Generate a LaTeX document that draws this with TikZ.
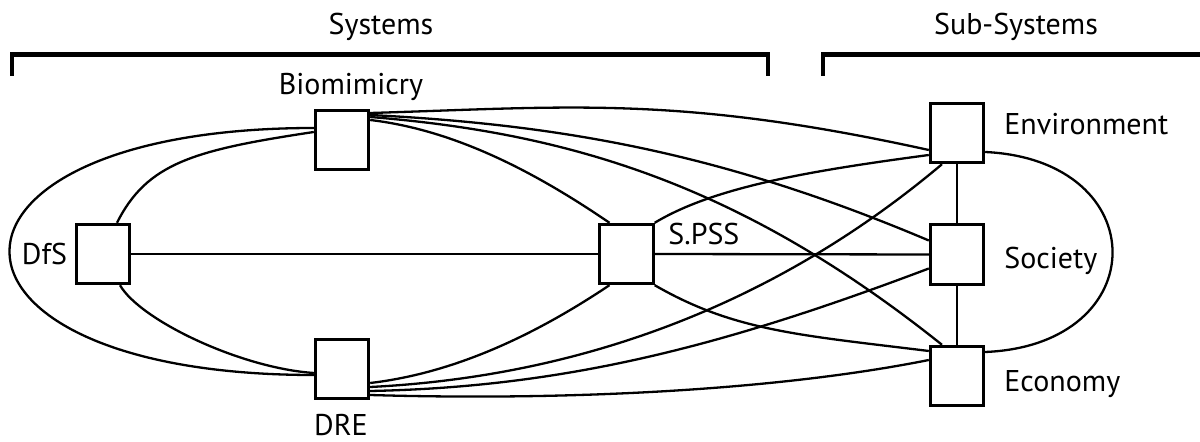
\documentclass[tikz,border=0pt]{standalone}
\usepackage{fontspec}
\setmainfont{PT Sans}
\usetikzlibrary{calc}
\begin{document}
\begin{tikzpicture}[x=0.5pt,y=-0.5pt,
  box/.style={draw,line width=1.4pt,minimum width=26.8pt,minimum height=29.8pt,inner sep=0pt},
  link/.style={line width=1.15pt},
  lbl/.style={inner sep=0pt,font=\fontsize{15}{18}\selectfont},
  bracket/.style={line width=2.3pt,line cap=butt,line join=miter}]
\useasboundingbox (0,0) rectangle (1200,442);

% systems and sub-systems
\node[box] (bio)  at (342,140)   {};
\node[box] (dfs)  at (103,254)   {};
\node[box] (spss) at (626.5,254) {};
\node[box] (dre)  at (342,369)   {};
\node[box] (env)  at (957,133)   {};
\node[box] (soc)  at (957,254.5) {};
\node[box] (eco)  at (957,376)   {};

% labels
\node[lbl,anchor=base] (tsys) at (381,35) {Systems};
\node[lbl,anchor=base] (tsub) at (1016,35) {Sub-Systems};
\node[lbl,anchor=base] (tbio) at (351,95) {Biomimicry};
\node[lbl,anchor=base] (tdfs) at (44.5,265) {DfS};
\node[lbl,anchor=base west] (tspss) at (668,245) {S.PSS};
\node[lbl,anchor=base west] (tenv) at (1004,135) {Environment};
\node[lbl,anchor=base west] (tsoc) at (1004,269) {Society};
\node[lbl,anchor=base west] (teco) at (1004,392) {Economy};
\node[lbl,anchor=base] (tdre) at (341,436) {DRE};

% group brackets
\draw[bracket] (12,76) -- (12,54.5) -- (768,54.5) -- (768,76);
\draw[bracket] (823,76) -- (823,54.5) -- (1204,54.5);

% links among the systems
\draw[link] ($(bio.west)+(0,-12)$) .. controls (-92,128) and (-92,375) .. ($(dre.west)+(0,6)$);
\draw[link] ($(bio.west)+(0,-8)$) .. controls (194,150) and (147,163) .. ($(dfs.north)+(14,0)$);
\draw[link] ($(dfs.south)+(17,0)$) .. controls (140,320) and (240,368) .. ($(dre.west)+(0,4)$);
\draw[link] (dfs.east) -- (spss.west);
\draw[link] ($(bio.east)+(0,-20)$) .. controls (455,130) and (535,172) .. ($(spss.north)+(-17,0)$);
\draw[link] ($(dre.east)+(0,14)$) .. controls (455,373) and (535,335) .. ($(spss.south)+(-17,0)$);

% links from the systems to the sub-systems
\draw[link] ($(bio.east)+(0,-27)$) .. controls (570,107) and (679,95) .. ($(env.west)+(0,17)$);
\draw[link] ($(bio.east)+(0,-25)$) .. controls (570,125) and (729,156) .. ($(soc.west)+(0,-14)$);
\draw[link] ($(bio.east)+(0,-23)$) .. controls (570,133) and (742,185) .. ($(eco.north)+(-15,0)$);
\draw[link] ($(dre.east)+(0,18)$) .. controls (590,376) and (782,299) .. ($(env.south)+(-15,0)$);
\draw[link] ($(dre.east)+(0,22)$) .. controls (570,387) and (729,344) .. ($(soc.west)+(0,14)$);
\draw[link] ($(dre.east)+(0,26)$) .. controls (570,401) and (779,390) .. ($(eco.west)+(0,-16)$);
\draw[link] (spss.north east) .. controls (714,187) and (809,171) .. ($(env.west)+(0,22)$);
\draw[link] (spss.east) -- (soc.west);
\draw[link] (spss.south east) .. controls (734,331) and (799,335) .. ($(eco.west)+(0,-25)$);

% links among the sub-systems
\draw[link] (env.south) -- (soc.north);
\draw[link] (soc.south) -- (eco.north);
\draw[link] ($(env.east)+(0,19)$) .. controls (1155,160) and (1155,345) .. ($(eco.east)+(0,-24)$);
\end{tikzpicture}
\end{document}
